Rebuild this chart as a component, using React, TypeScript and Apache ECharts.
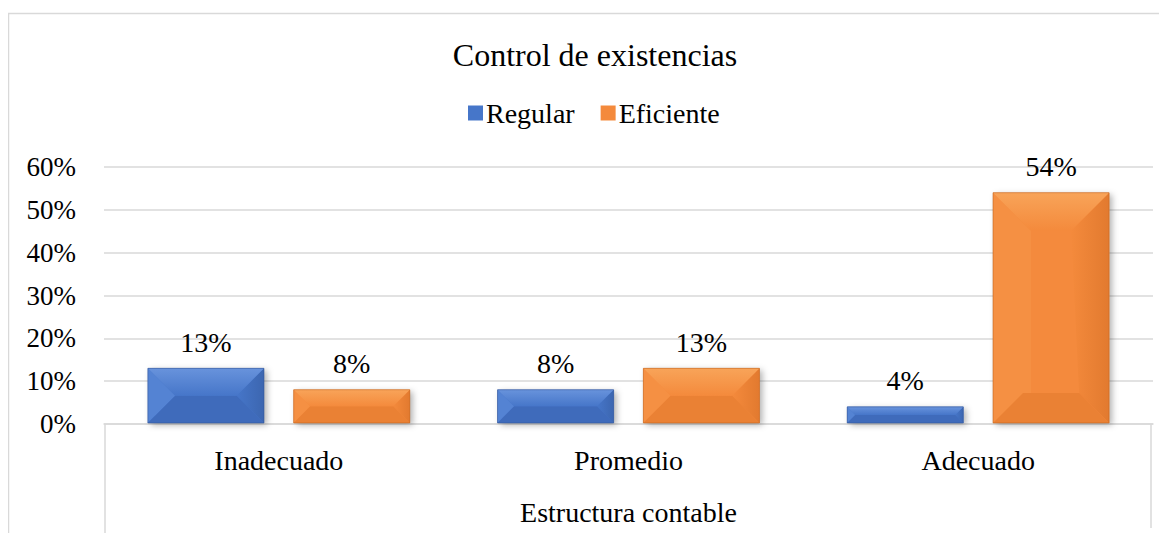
import React, { useEffect, useRef } from "react";
import * as echarts from "echarts";

const categories = ["Inadecuado", "Promedio", "Adecuado"];
const regular = [13, 8, 4];
const eficiente = [8, 13, 54];
const yMin = 0;
const yMax = 60;
const yInterval = 10;

const FONT = "Liberation Serif";

const palettes = [
  { center: "#4676c9", top: "#6893dc", left: "#5483d3", right: "#3c66b0", bottom: "#3f6bbb", edge: "#33579a" },
  { center: "#f48a3c", top: "#f8a459", left: "#f59043", right: "#e27a2f", bottom: "#ea8134", edge: "#c3661f" },
];

function makeRender(seriesIdx: number) {
  return (params: any, api: any) => {
    const cat = api.value(0);
    const val = api.value(1);
    const base = api.coord([cat, 0]);
    const top = api.coord([cat, val]);
    const band = api.size([1, 0])[0];
    const w = band * 0.332;
    const gap = band * 0.085;
    const cx = base[0] + (seriesIdx === 0 ? -(w / 2 + gap / 2) : w / 2 + gap / 2);
    const x0 = cx - w / 2;
    const x1 = cx + w / 2;
    const y0 = top[1];
    const y1 = base[1] - 1;
    const h = y1 - y0;
    const bt = Math.min(h / 2, 38, w / 2);
    const bb = Math.min(h / 2, 30, w / 2);
    const p = palettes[seriesIdx];
    const label = val + "%";
    return {
      type: "group",
      children: [
        {
          type: "rect",
          shape: { x: x0, y: y0, width: w, height: h },
          style: {
            fill: p.center,
            shadowBlur: 6,
            shadowOffsetX: 3,
            shadowOffsetY: 2,
            shadowColor: "rgba(0,0,0,0.3)",
          },
        },
        {
          type: "polygon",
          shape: { points: [[x0, y0], [x0 + bt, y0 + bt], [x0 + bt, y1 - bb], [x0, y1]] },
          style: { fill: p.left },
        },
        {
          type: "polygon",
          shape: { points: [[x1, y0], [x1, y1], [x1 - bb, y1 - bb], [x1 - bt, y0 + bt]] },
          style: {
            fill: new echarts.graphic.LinearGradient(0, 0, 1, 0, [
              { offset: 0, color: p.center },
              { offset: 1, color: p.right },
            ]),
          },
        },
        {
          type: "polygon",
          shape: { points: [[x0, y1], [x0 + bb, y1 - bb], [x1 - bb, y1 - bb], [x1, y1]] },
          style: { fill: p.bottom },
        },
        {
          type: "polygon",
          shape: { points: [[x0, y0], [x1, y0], [x1 - bt, y0 + bt], [x0 + bt, y0 + bt]] },
          style: {
            fill: new echarts.graphic.LinearGradient(0, 0, 0, 1, [
              { offset: 0, color: p.top },
              { offset: 1, color: p.center },
            ]),
          },
        },
        {
          type: "rect",
          shape: { x: x0, y: y0, width: w, height: h },
          style: { fill: "none", stroke: p.edge, lineWidth: 1, opacity: 0.6 },
        },
        {
          type: "text",
          style: {
            text: label,
            x: cx,
            y: y0 - 12,
            align: "center",
            verticalAlign: "bottom",
            fill: "#000",
            fontFamily: FONT,
            fontSize: 28,
          },
        },
      ],
    };
  };
}

export default function App() {
  const ref = useRef<HTMLDivElement>(null);
  useEffect(() => {
    if (!ref.current) return;
    const chart = echarts.init(ref.current, undefined, { renderer: "svg" });
    const W = 1151;
    const H = 525;
    const gridLeft = 96;
    const gridRight = 6;
    const gridTop = 159;
    const gridBottom = 109;
    const axisY = H - gridBottom;
    chart.setOption({
      animation: false,
      backgroundColor: "#fff",
      title: {
        text: "Control de existencias",
        left: 582,
        textAlign: "center",
        top: 26,
        textStyle: { fontFamily: FONT, fontSize: 32, fontWeight: "normal", color: "#000" },
      },
      legend: {
        top: 86,
        left: 455,
        icon: "rect",
        itemWidth: 15,
        itemHeight: 15,
        itemGap: 26,
        textStyle: { fontFamily: FONT, fontSize: 28, color: "#000", padding: [0, 0, 0, -2] },
        data: ["Regular", "Eficiente"],
      },
      grid: { left: gridLeft, right: gridRight, top: gridTop, bottom: gridBottom, containLabel: false },
      xAxis: {
        type: "category",
        data: categories,
        axisLine: { show: true, lineStyle: { color: "#d9d9d9", width: 1.5 } },
        axisTick: { show: false },
        axisLabel: { fontFamily: FONT, fontSize: 28, color: "#000", margin: 22 },
        name: "Estructura contable",
        nameLocation: "middle",
        nameGap: 74,
        nameTextStyle: { fontFamily: FONT, fontSize: 28, color: "#000" },
      },
      yAxis: {
        type: "value",
        min: yMin,
        max: yMax,
        interval: yInterval,
        axisLine: { show: false },
        axisTick: { show: false },
        splitLine: { lineStyle: { color: "#d9d9d9", width: 1.5 } },
        axisLabel: { fontFamily: FONT, fontSize: 27, color: "#000", margin: 28, formatter: "{value}%" },
      },
      graphic: [
        {
          type: "rect",
          shape: { x: 0.5, y: 5.5, width: 1300, height: 700 },
          style: { fill: "none", stroke: "#d9d9d9", lineWidth: 1.5 },
          silent: true,
        },
        {
          type: "line",
          shape: { x1: gridLeft + 1, y1: axisY, x2: gridLeft + 1, y2: H },
          style: { stroke: "#d9d9d9", lineWidth: 1.5 },
        },
        {
          type: "line",
          shape: { x1: W - gridRight - 2, y1: axisY, x2: W - gridRight - 2, y2: H - 5 },
          style: { stroke: "#d9d9d9", lineWidth: 1.5 },
        },
      ],
      series: [
        {
          name: "Regular",
          type: "custom",
          renderItem: makeRender(0),
          itemStyle: { color: palettes[0].center },
          data: regular.map((v, i) => [i, v]),
          encode: { x: 0, y: 1 },
        },
        {
          name: "Eficiente",
          type: "custom",
          renderItem: makeRender(1),
          itemStyle: { color: palettes[1].center },
          data: eficiente.map((v, i) => [i, v]),
          encode: { x: 0, y: 1 },
        },
      ],
    });
    return () => chart.dispose();
  }, []);
  return <div ref={ref} style={{ width: 1151, height: 525 }} />;
}
